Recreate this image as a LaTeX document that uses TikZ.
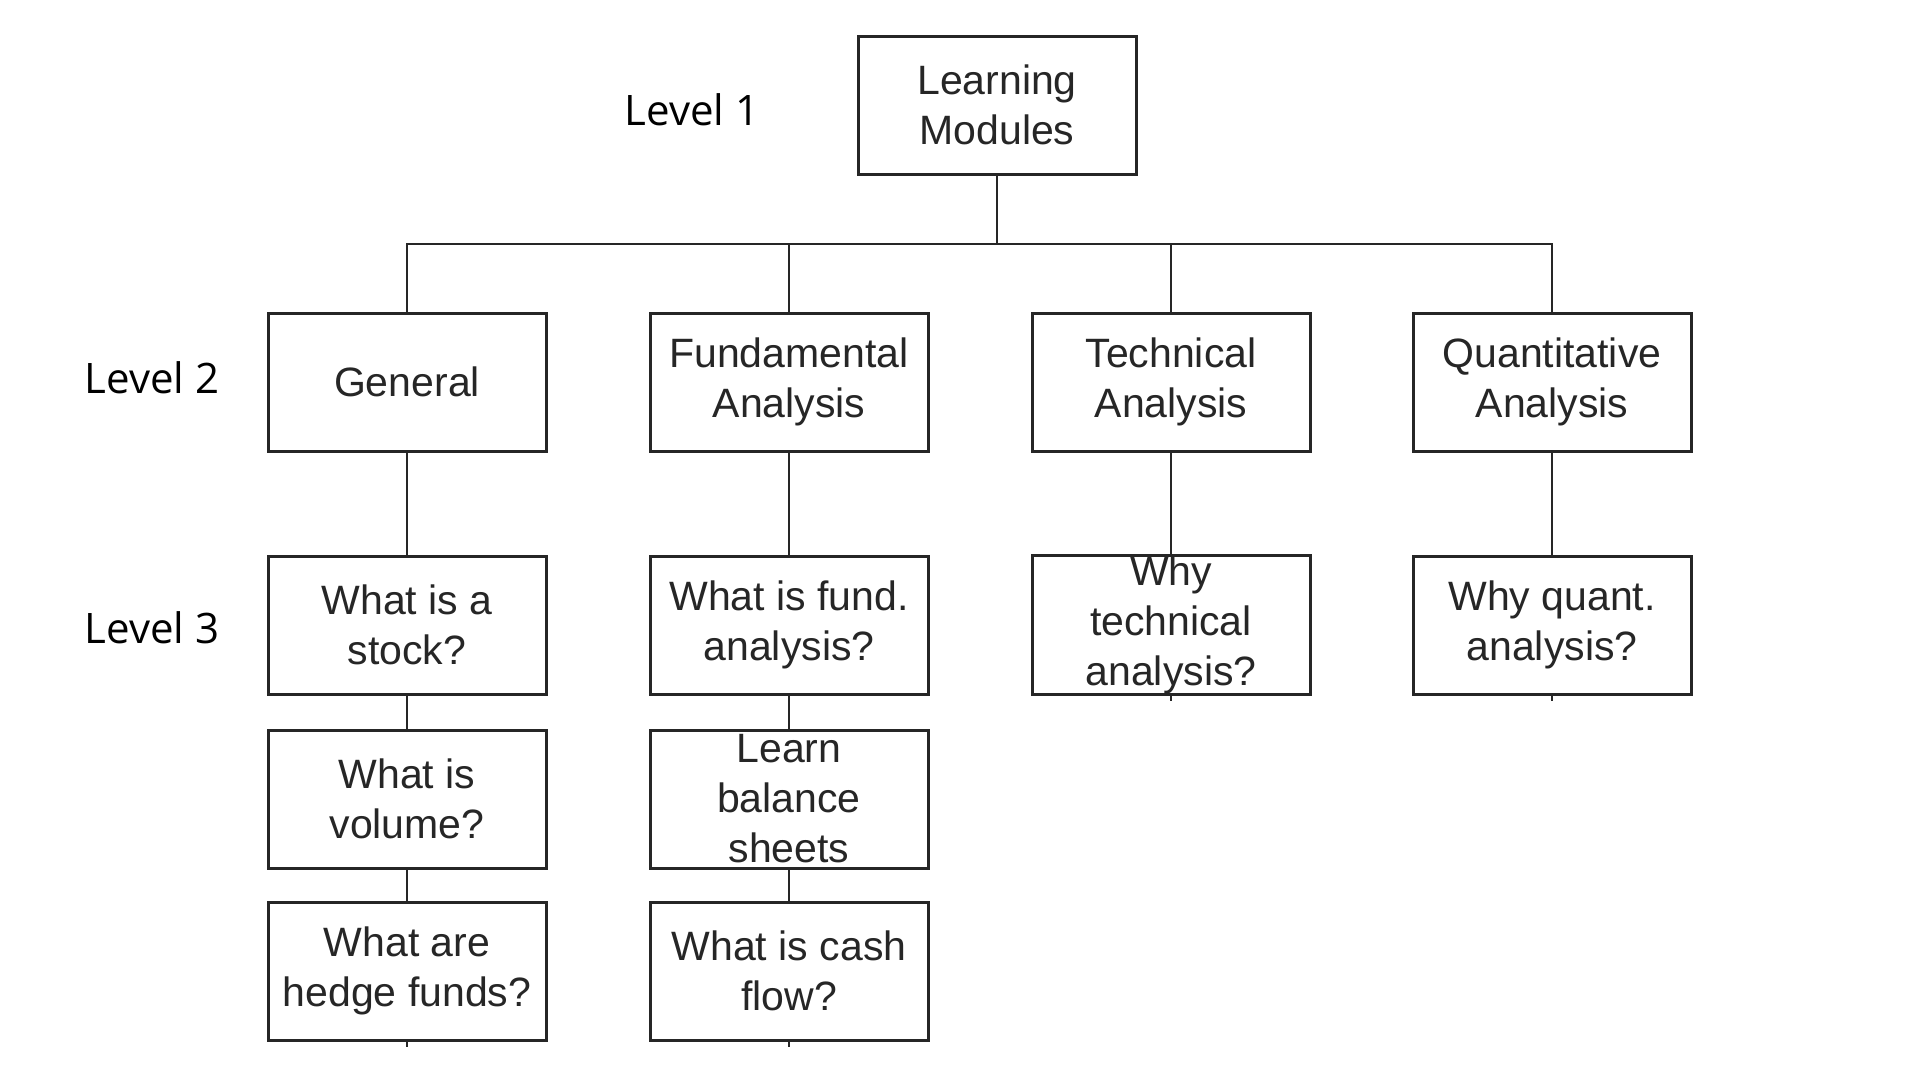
\documentclass[tikz,border=0pt]{standalone}
\usepackage{fontspec}
\setmainfont{Liberation Sans}
\newfontfamily\levelfont{Open Sans}
\usepackage{tikz}
\usetikzlibrary{positioning}

\begin{document}
\begin{tikzpicture}[x=1pt, y=-1pt,
  module/.style={draw=black!85, line width=3pt, minimum width=278pt, minimum height=138pt,
    inner sep=0pt, align=center, text=black!85,
    font=\fontsize{41}{50}\selectfont},
  level/.style={font=\levelfont\fontsize{42}{50}\selectfont, inner sep=0pt},
  line/.style={draw=black!85, line width=2.6pt}]
\useasboundingbox [fill=white] (0,0) rectangle (1920,1080);

\node[module] (lm) at (997,105) {Learning\\Modules};

\node[module] (gen) at (407,382) {General};
\node[module] (fund) at (789,382) {Fundamental\\Analysis};
\node[module] (tech) at (1171,382) {Technical\\Analysis};
\node[module] (quant) at (1552,382) {Quantitative\\Analysis};

\node[module] (stock) at (407,625) {What is a\\stock?};
\node[module] (volume) at (407,799) {What is\\volume?};
\node[module] (hedge) at (407,971) {What are\\hedge funds?};

\node[module] (fanal) at (789,625) {What is fund.\\analysis?};
\node[module] (balance) at (789,799) {Learn\\balance\\sheets};
\node[module] (cash) at (789,971) {What is cash\\flow?};

\node[module] (tanal) at (1171,625) {Why\\technical\\analysis?};
\node[module] (qanal) at (1552,625) {Why quant.\\analysis?};

\node[level] (l1) at (692,110) {Level 1};
\node[level] (l2) at (152,378) {Level 2};
\node[level] (l3) at (152,628) {Level 3};

\coordinate (bus) at (997,244);
\path[line] (lm.south) -- (lm.south |- bus);
\path[line] (gen.north) -- (gen.north |- bus) -- (quant.north |- bus) -- (quant.north);
\foreach \n in {fund, tech}
  \path[line] (\n.north) -- (\n.north |- bus);

\path[line] (gen) -- (stock) (stock) -- (volume) (volume) -- (hedge);
\path[line] (fund) -- (fanal) (fanal) -- (balance) (balance) -- (cash);
\path[line] (tech) -- (tanal);
\path[line] (quant) -- (qanal);

\foreach \n in {hedge, cash, tanal, qanal}
  \path[line] (\n.south) -- ++(0,5);
\end{tikzpicture}
\end{document}
